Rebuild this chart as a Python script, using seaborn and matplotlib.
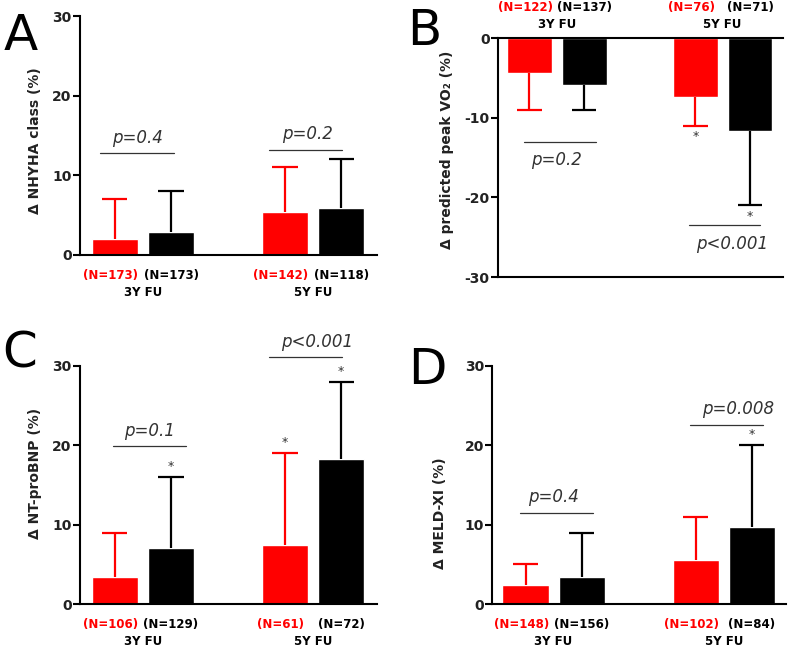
import numpy as np
import pandas as pd
import seaborn as sns
import matplotlib.pyplot as plt

# ---------------- Data ----------------
timepoints = ["3Y FU", "5Y FU"]
cohorts = ["red", "black"]
bar_colors = {"red": "#ff0000", "black": "#000000"}

# A - NHYHA class
nyha_red = [2.0, 5.4]
nyha_red_sd = [5.0, 5.6]
nyha_black = [2.9, 5.9]
nyha_black_sd = [5.1, 6.1]
nyha_n_red = ["(N=173)", "(N=142)"]
nyha_n_black = ["(N=173)", "(N=118)"]
nyha_p = ["p=0.4", "p=0.2"]

# B - predicted peak VO2
vo2_red = [-4.4, -7.4]
vo2_red_sd = [4.6, 3.6]
vo2_black = [-5.9, -11.7]
vo2_black_sd = [3.1, 9.3]
vo2_n_red = ["(N=122)", "(N=76)"]
vo2_n_black = ["(N=137)", "(N=71)"]
vo2_p = ["p=0.2", "p<0.001"]

# C - NT-proBNP
bnp_red = [3.4, 7.4]
bnp_red_sd = [5.6, 11.6]
bnp_black = [7.0, 18.3]
bnp_black_sd = [9.0, 9.7]
bnp_n_red = ["(N=106)", "(N=61)"]
bnp_n_black = ["(N=129)", "(N=72)"]
bnp_p = ["p=0.1", "p<0.001"]

# D - MELD-XI
meld_red = [2.4, 5.5]
meld_red_sd = [2.6, 5.5]
meld_black = [3.4, 9.7]
meld_black_sd = [5.6, 10.3]
meld_n_red = ["(N=148)", "(N=102)"]
meld_n_black = ["(N=156)", "(N=84)"]
meld_p = ["p=0.4", "p=0.008"]

# ---------------- Style ----------------
sns.set_style("ticks")
plt.rcParams["font.family"] = ["DejaVu Sans"]
plt.rcParams["axes.linewidth"] = 1.5
plt.rcParams["axes.unicode_minus"] = False

fig = plt.figure(figsize=(7.9, 6.48), dpi=100)

panels = [
    dict(letter="A", rect=[0.1013, 0.6065, 0.3759, 0.3688], xlim=(-0.37, 1.376),
         red=nyha_red, red_sd=nyha_red_sd, black=nyha_black, black_sd=nyha_black_sd,
         n_red=nyha_n_red, n_black=nyha_n_black, p=nyha_p,
         ylabel="Δ NHYHA class (%)", label_xy=(-0.152, 0.477),
         star_red=[False, False], star_black=[False, False],
         line_y=[12.8, 13.2], line_dx=[-0.035, -0.045], text_dx=[-0.03, -0.035],
         letter_xy=(4, 50)),
    dict(letter="B", rect=[0.6304, 0.5725, 0.3608, 0.3688], xlim=(-0.354, 1.364),
         red=vo2_red, red_sd=vo2_red_sd, black=vo2_black, black_sd=vo2_black_sd,
         n_red=vo2_n_red, n_black=vo2_n_black, p=vo2_p,
         ylabel="Δ predicted peak VO₂ (%)", label_xy=(-0.18, 0.531),
         star_red=[False, True], star_black=[False, True],
         line_y=[-13.0, -23.5], line_dx=[0.02, 0.012], text_dx=[0.0, 0.056],
         letter_xy=(407, 45)),
    dict(letter="C", rect=[0.1013, 0.0679, 0.3759, 0.3677], xlim=(-0.37, 1.376),
         red=bnp_red, red_sd=bnp_red_sd, black=bnp_black, black_sd=bnp_black_sd,
         n_red=bnp_n_red, n_black=bnp_n_black, p=bnp_p,
         ylabel="Δ NT-proBNP (%)", label_xy=(-0.152, 0.55),
         star_red=[False, True], star_black=[True, True],
         line_y=[19.9, 31.1], line_dx=[0.04, -0.045], text_dx=[0.04, 0.024],
         letter_xy=(2, 368)),
    dict(letter="D", rect=[0.6232, 0.0679, 0.3714, 0.3677], xlim=(-0.36, 1.364),
         red=meld_red, red_sd=meld_red_sd, black=meld_black, black_sd=meld_black_sd,
         n_red=meld_n_red, n_black=meld_n_black, p=meld_p,
         ylabel="Δ MELD-XI (%)", label_xy=(-0.178, 0.382),
         star_red=[False, False], star_black=[False, True],
         line_y=[11.5, 22.6], line_dx=[0.017, 0.015], text_dx=[0.0, 0.083],
         letter_xy=(408, 384)),
]

cap_half = 0.074  # half width of the error-bar caps, in category units

for pan in panels:
    ax = fig.add_axes(pan["rect"])
    df = pd.DataFrame({
        "fu": timepoints * 2,
        "cohort": ["red"] * 2 + ["black"] * 2,
        "value": pan["red"] + pan["black"],
    })
    sns.barplot(data=df, x="fu", y="value", hue="cohort", order=timepoints,
                hue_order=cohorts, palette=bar_colors, saturation=1,
                width=0.66, gap=0.18, errorbar=None, legend=False, ax=ax)

    negative = pan["red"][0] < 0
    for bar in list(ax.patches):
        xc = bar.get_x() + bar.get_width() / 2
        gi = int(round(xc))
        is_red = xc < gi
        color = bar_colors["red"] if is_red else bar_colors["black"]
        m = pan["red"][gi] if is_red else pan["black"][gi]
        sd = pan["red_sd"][gi] if is_red else pan["black_sd"][gi]
        tip = m + sd if m >= 0 else m - sd
        # one-sided SD bar with a single cap
        ax.plot([xc, xc], [m, tip], color=color, lw=1.6, zorder=1,
                solid_capstyle="butt")
        ax.plot([xc - cap_half, xc + cap_half], [tip, tip], color=color, lw=1.6,
                zorder=1, solid_capstyle="butt")
        star = pan["star_red"][gi] if is_red else pan["star_black"][gi]
        if star:
            sy = tip + 1.3 if m >= 0 else tip - 1.4
            ax.text(xc, sy, "*", ha="center", va="center", fontsize=9,
                    color="#333333", clip_on=False)
        # N labels
        n_txt = pan["n_red"][gi] if is_red else pan["n_black"][gi]
        nx = xc - 0.025 if is_red else xc
        if negative:
            ax.annotate(n_txt, xy=(nx, 1), xycoords=("data", "axes fraction"),
                        xytext=(0, 22), textcoords="offset points", ha="center",
                        va="center", fontsize=8.5, fontweight="bold", color=color,
                        annotation_clip=False)
        else:
            ax.annotate(n_txt, xy=(nx, 0), xycoords=("data", "axes fraction"),
                        xytext=(0, -14.5), textcoords="offset points", ha="center",
                        va="center", fontsize=8.5, fontweight="bold", color=color,
                        annotation_clip=False)

    for gi, tp in enumerate(timepoints):
        # follow-up labels
        if negative:
            ax.annotate(tp, xy=(gi, 1), xycoords=("data", "axes fraction"),
                        xytext=(0, 10), textcoords="offset points", ha="center",
                        va="center", fontsize=8.5, fontweight="bold",
                        color="black", annotation_clip=False)
        else:
            ax.annotate(tp, xy=(gi, 0), xycoords=("data", "axes fraction"),
                        xytext=(0, -27), textcoords="offset points", ha="center",
                        va="center", fontsize=8.5, fontweight="bold",
                        color="black", annotation_clip=False)
        # p-value brackets
        lc = gi + pan["line_dx"][gi]
        ly = pan["line_y"][gi]
        ax.plot([lc - 0.215, lc + 0.215], [ly, ly], color="#333333", lw=0.9,
                clip_on=False)
        ty = ly - 3.0 if negative else ly + 1.3
        ax.text(gi + pan["text_dx"][gi], ty, pan["p"][gi], ha="center",
                va="baseline", fontsize=12, style="italic", color="#333333")

    ax.set_xlim(*pan["xlim"])
    if negative:
        ax.set_ylim(-30, 0)
        ax.set_yticks([-30, -20, -10, 0])
        sns.despine(ax=ax, top=False, right=True)
    else:
        ax.set_ylim(0, 30)
        ax.set_yticks([0, 10, 20, 30])
        sns.despine(ax=ax)
    for sp in ax.spines.values():
        sp.set_color("black")
    ax.set_xticks([])
    ax.set_xlabel("")
    ax.tick_params(axis="y", direction="out", length=5, width=1.5, pad=1,
                   labelsize=10, color="black", labelcolor="#222222")
    for lbl in ax.get_yticklabels():
        lbl.set_fontweight("bold")
    ax.set_ylabel(pan["ylabel"], fontsize=10, fontweight="bold", va="center",
                  color="#222222")
    ax.yaxis.set_label_coords(*pan["label_xy"])

    lx, ly_px = pan["letter_xy"]
    fig.text(lx / 790, 1 - ly_px / 648, pan["letter"], fontsize=36,
             ha="left", va="baseline", color="black")

fig.savefig("out.png", dpi=100)
